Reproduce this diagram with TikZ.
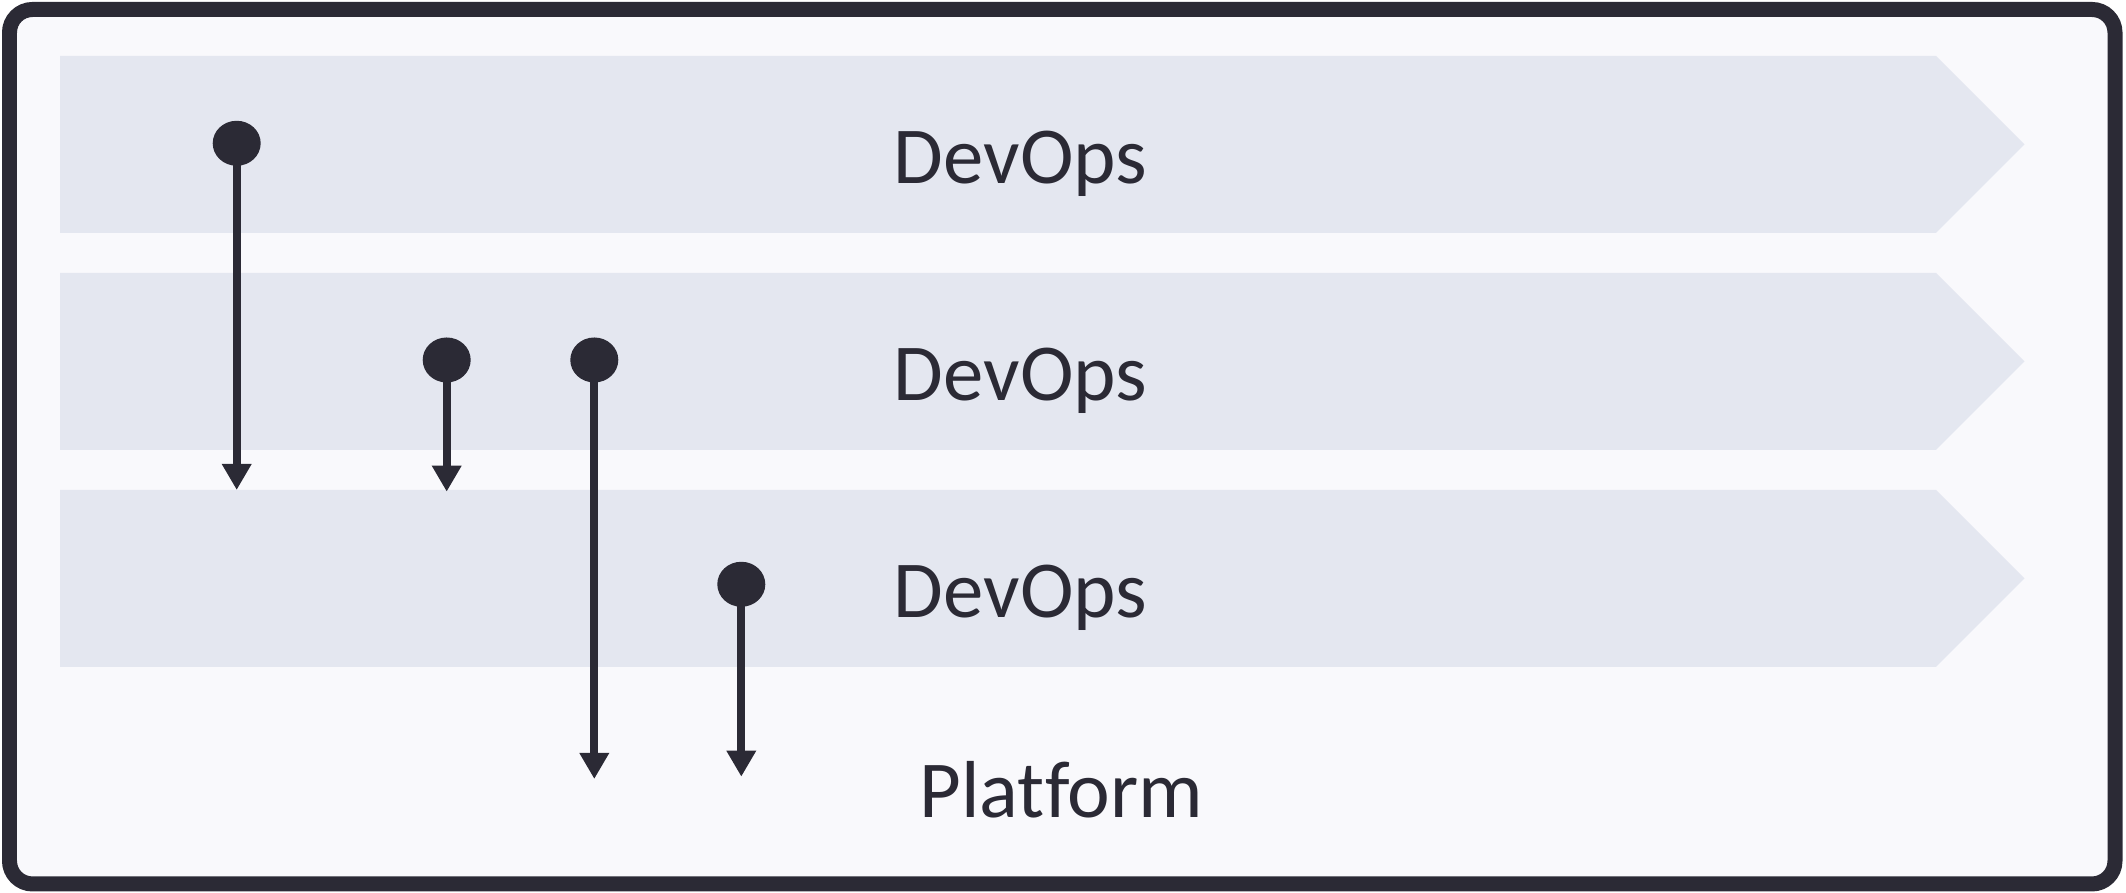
\documentclass[tikz,border=0pt]{standalone}
\usepackage{fontspec}
\setmainfont{Carlito}[Ligatures=NoCommon]
\usetikzlibrary{arrows.meta,shapes.geometric}
\definecolor{inkdark}{HTML}{2B2A35}
\definecolor{bandfill}{HTML}{E4E7F0}
\definecolor{paper}{HTML}{F9F9FC}
\tikzset{
    lanetext/.style={anchor=base,text=inkdark,font=\fontsize{23}{28}\selectfont},
    dot/.style={ellipse,fill=inkdark,inner sep=0pt,minimum width=0.48cm,minimum height=0.45cm},
    drop/.style={draw=inkdark,line width=0.08cm,-{Triangle[width=0.28cm,length=0.26cm]}}
}
\begin{document}
\begin{tikzpicture}
        \useasboundingbox (0,0) rectangle (21.26,8.93);
        \draw[draw=inkdark,fill=paper,line width=0.15cm,rounded corners=0.23cm] (0.095,0.09) rectangle (21.15,8.835);
        \pgfmathsetmacro\laneleft{0.6}
        \pgfmathsetmacro\laneright{19.36}
        \pgfmathsetmacro\lanehalf{0.885}
        % three lanes, top to bottom
        \foreach \mid [count=\i] in {7.485,5.315,3.145} {
            \fill[bandfill] (\laneleft,\mid-\lanehalf) -- (\laneright,\mid-\lanehalf) -- ++(\lanehalf,\lanehalf) -- (\laneright,\mid+\lanehalf) -- (\laneleft,\mid+\lanehalf) -- cycle;
            \node[lanetext] (lane\i) at (10.205,\mid-0.395) {DevOps};
        }
        \node[lanetext] (platform) at (10.615,0.75) {Platform};
        \node[dot] (d1) at (2.367,7.497) {};
        \node[dot] (d2) at (4.467,5.33) {};
        \node[dot] (d3) at (5.943,5.33) {};
        \node[dot] (d4) at (7.413,3.087) {};
        \coordinate (t1) at (2.367,4.03);
        \coordinate (t2) at (4.467,4.013);
        \coordinate (t3) at (5.943,1.14);
        \coordinate (t4) at (7.413,1.163);
        \foreach \k in {1,...,4} {
            \draw[drop] (d\k.center) -- (t\k);
        }
    \end{tikzpicture}
\end{document}
